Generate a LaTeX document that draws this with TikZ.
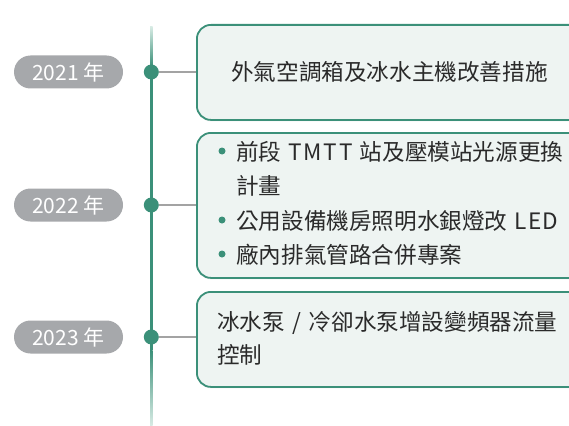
\documentclass[tikz,border=0pt]{standalone}
\usepackage{fontspec}
\setmainfont{Noto Sans CJK TC}
\usetikzlibrary{shadows}
\definecolor{tealc}{HTML}{3B9079}
\definecolor{tealfade}{HTML}{D6EAE3}
\definecolor{boxfill}{HTML}{EEF4F2}
\definecolor{pillgray}{HTML}{A6A8AB}
\definecolor{txt}{HTML}{2A2A2A}
\definecolor{conn}{HTML}{A3A3A3}
\begin{document}
\begin{tikzpicture}[x=1pt,y=-1pt,
  pill/.style={fill=pillgray, rounded corners=16.5pt, minimum width=109pt, minimum height=33pt, inner sep=0pt, text=white, font=\fontsize{21}{24}\selectfont},
  dot/.style={circle, fill=tealc, minimum size=15pt, inner sep=0pt},
  card/.style={draw=tealc, line width=1.8pt, fill=boxfill, rounded corners=14pt, anchor=north west, minimum width=392pt, inner sep=0pt,
    drop shadow={opacity=0.12, shadow xshift=0pt, shadow yshift=-1.5pt}},
  ctext/.style={anchor=base west, inner sep=0pt, text=txt, font=\fontsize{22.6}{34}\selectfont},
  bullet/.style={circle, fill=tealc, minimum size=7pt, inner sep=0pt},
  link/.style={draw=conn, line width=1.2pt}]
\useasboundingbox (0,0) rectangle (569,425);
\clip (0,0) rectangle (569,425);
% timeline axis
\shade[top color=tealfade, bottom color=tealc] (150,27) rectangle (152.6,66);
\fill[tealc] (150,66) rectangle (152.6,350);
\shade[top color=tealc, bottom color=tealfade] (150,350) rectangle (152.6,425);
% cards
\node[card, minimum height=95pt] (b1) at (196,24) {};
\node[card, minimum height=145pt] (b2) at (196,132) {};
\node[card, minimum height=95pt] (b3) at (196,291) {};
% dots
\node[dot] (d1) at (151.3,72) {};
\node[dot] (d2) at (151.3,205) {};
\node[dot] (d3) at (151.3,337) {};
% connectors
\draw[link] (d1.east) -- (d1.east -| b1.west);
\draw[link] (d2.east) -- (d2.east -| b2.west);
\draw[link] (d3.east) -- (d3.east -| b3.west);
% years
\node[pill] (y1) at (68.5,72) {2021 年};
\node[pill] (y2) at (68.5,205) {2022 年};
\node[pill] (y3) at (68.5,337) {2023 年};
% card texts
\node[ctext] (t1) at (231,81) {外氣空調箱及冰水主機改善措施};
\node[bullet] (p1) at (222,151) {};
\node[ctext] (t2a) at (236,160) {前段\hspace{2pt} {\addfontfeatures{LetterSpace=8}TMTT}\hspace{2pt} 站及壓模站光源更換};
\node[ctext] (t2b) at (236,194) {計畫};
\node[bullet] (p2) at (222,220) {};
\node[ctext] (t2c) at (236,229) {公用設備機房照明水銀燈改\hspace{2pt} {\addfontfeatures{LetterSpace=6}LED}};
\node[bullet] (p3) at (222,254) {};
\node[ctext] (t2d) at (236,263) {廠內排氣管路合併專案};
\node[ctext] (t3a) at (217,330) {冰水泵\hspace{2.5pt} / \hspace{2.5pt}冷卻水泵增設變頻器流量};
\node[ctext] (t3b) at (217,363) {控制};
\end{tikzpicture}
\end{document}
